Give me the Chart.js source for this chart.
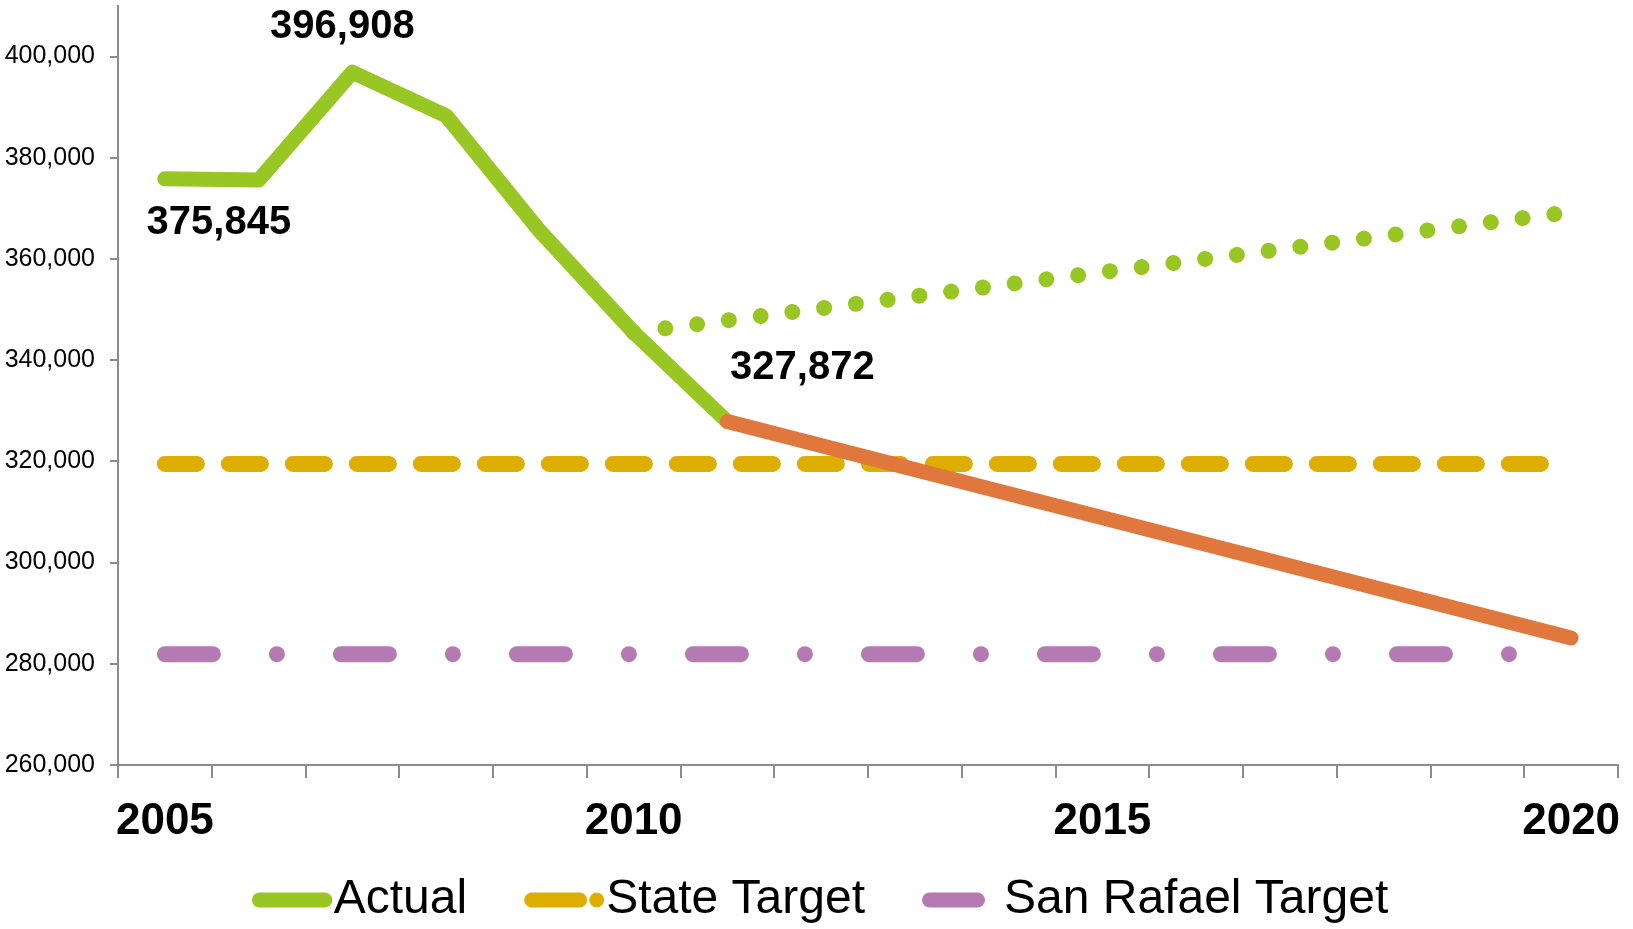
<!DOCTYPE html>
<html>
<head>
<meta charset="utf-8">
<script src="https://cdn.jsdelivr.net/npm/chart.js@4.4.1/dist/chart.umd.min.js"></script>
<style>
  html, body { margin: 0; padding: 0; background: #fff; }
  #chart { display: block; }
</style>
</head>
<body>
<canvas id="chart" width="1633" height="929"></canvas>
<script>
// --- DATA ---
const years = ['2005', '2006', '2007', '2008', '2009', '2010', '2011', '2012',
               '2013', '2014', '2015', '2016', '2017', '2018', '2019', '2020'];
const xTickLabels = ['2005', '2010', '2015', '2020'];
const yTicks = [260000, 280000, 300000, 320000, 340000, 360000, 380000, 400000];

const actual          = [375845, 375600, 396908, 388300, 365500, 345500, 327872, null,
                         null, null, null, null, null, null, null, null];
const projected       = [null, null, null, null, null, null, 327872, null,
                         null, null, null, null, null, null, null, 285100];
const businessAsUsual = [null, null, null, null, null, 345500, null, null,
                         null, null, null, null, null, null, null, 369300];
const stateTarget     = [319500, 319500, 319500, 319500, 319500, 319500, 319500, 319500,
                         319500, 319500, 319500, 319500, 319500, 319500, 319500, 319500];
const sanRafaelTarget = [281900, 281900, 281900, 281900, 281900, 281900, 281900, 281900,
                         281900, 281900, 281900, 281900, 281900, 281900, 281900, 281900];

// Actual points that carry a value label: [index, dx, dy]
const labelOffsets = [[0, 54, 44], [2, -10, -45], [6, 75, -54]];

const GREEN = '#98C723', ORANGE = '#E0773D', GOLD = '#DDAE00', PURPLE = '#B57AB4', AXIS = '#8D8D8D';
const FONT = '"Liberation Sans", Arial, sans-serif';

// --- LEGEND SAMPLES ---
// sample sits at the right end of a 149px image, leaving the gap to the previous item on the left
function legendSample(color, dash) {
    const c = document.createElement('canvas');
    c.width = 149; c.height = 20;
    const g = c.getContext('2d');
    g.strokeStyle = color;
    g.lineWidth = 15;
    g.lineCap = 'round';
    g.setLineDash(dash);
    g.beginPath();
    g.moveTo(76.5, 10);
    g.lineTo(142, 10);
    g.stroke();
    return c;
}

const legendItems = [
    { text: 'Actual', datasetIndex: 0, style: legendSample(GREEN, []) },
    { text: 'State Target', datasetIndex: 3, style: legendSample(GOLD, [48, 17, 0.01, 100]) },
    { text: 'San Rafael Target', datasetIndex: 4, style: legendSample(PURPLE, [48, 100]) }
];

// --- VALUE LABELS ---
const pointLabels = {
    id: 'pointLabels',
    afterDatasetsDraw(chart) {
        const meta = chart.getDatasetMeta(0);
        const ctx = chart.ctx;
        ctx.save();
        ctx.font = 'bold 40px ' + FONT;
        ctx.fillStyle = '#000';
        ctx.textAlign = 'center';
        ctx.textBaseline = 'middle';
        labelOffsets.forEach(([i, dx, dy]) => {
            const pt = meta.data[i];
            ctx.fillText(actual[i].toLocaleString('en-US'), pt.x + dx, pt.y + dy);
        });
        ctx.restore();
    }
};

function lineSet(label, data, color, width, dash, order) {
    return {
        label: label, data: data, borderColor: color, backgroundColor: color,
        borderWidth: width, borderDash: dash, borderCapStyle: 'round', borderJoinStyle: 'round',
        pointRadius: 0, pointHoverRadius: 0, tension: 0, spanGaps: true, order: order
    };
}

new Chart(document.getElementById('chart'), {
    type: 'line',
    data: {
        labels: years,
        datasets: [
            lineSet('Actual', actual, GREEN, 15, [], 1),
            lineSet('Projected', projected, ORANGE, 15, [], 0),
            lineSet('Business as Usual', businessAsUsual, GREEN, 16, [0.01, 32], 4),
            lineSet('State Target', stateTarget, GOLD, 16, [32, 32], 2),
            lineSet('San Rafael Target', sanRafaelTarget, PURPLE, 16, [48, 64, 0.01, 64], 3)
        ]
    },
    options: {
        responsive: false,
        animation: false,
        layout: { padding: { top: 6, right: 15, bottom: -5, left: -25 } },
        plugins: {
            tooltip: { enabled: false },
            legend: {
                position: 'bottom',
                labels: {
                    usePointStyle: true,
                    pointStyleWidth: 105,
                    padding: 10,
                    color: '#000',
                    font: { family: FONT, size: 48 },
                    generateLabels: () => legendItems.map(it => ({
                        text: it.text, datasetIndex: it.datasetIndex, pointStyle: it.style,
                        fontColor: '#000', hidden: false, lineWidth: 0
                    }))
                }
            }
        },
        scales: {
            x: {
                offset: true,
                grid: { offset: true, drawOnChartArea: false, drawTicks: true, tickLength: 13, color: AXIS, lineWidth: 2 },
                border: { display: true, color: AXIS, width: 2 },
                ticks: {
                    autoSkip: false, maxRotation: 0, padding: 17, color: '#000',
                    font: { family: FONT, size: 44, weight: 'bold' },
                    callback: function(v) {
                        const lab = this.getLabelForValue(v);
                        return xTickLabels.includes(lab) ? lab : '';
                    }
                },
                afterFit: s => { s.height = 101; s.paddingLeft = 0; s.paddingRight = 0; }
            },
            y: {
                min: 260000,
                max: 410000,
                grid: { drawOnChartArea: false, drawTicks: true, tickLength: 8, color: AXIS, lineWidth: 2 },
                border: { display: true, color: AXIS, width: 2 },
                ticks: {
                    padding: 15, color: '#000',
                    font: { family: FONT, size: 25 },
                    callback: v => v.toLocaleString('en-US')
                },
                afterBuildTicks: s => { s.ticks = yTicks.map(v => ({ value: v })); },
                afterFit: s => { s.width = 143; s.paddingTop = 0; s.paddingBottom = 0; }
            }
        }
    },
    plugins: [pointLabels]
});
</script>
</body>
</html>
